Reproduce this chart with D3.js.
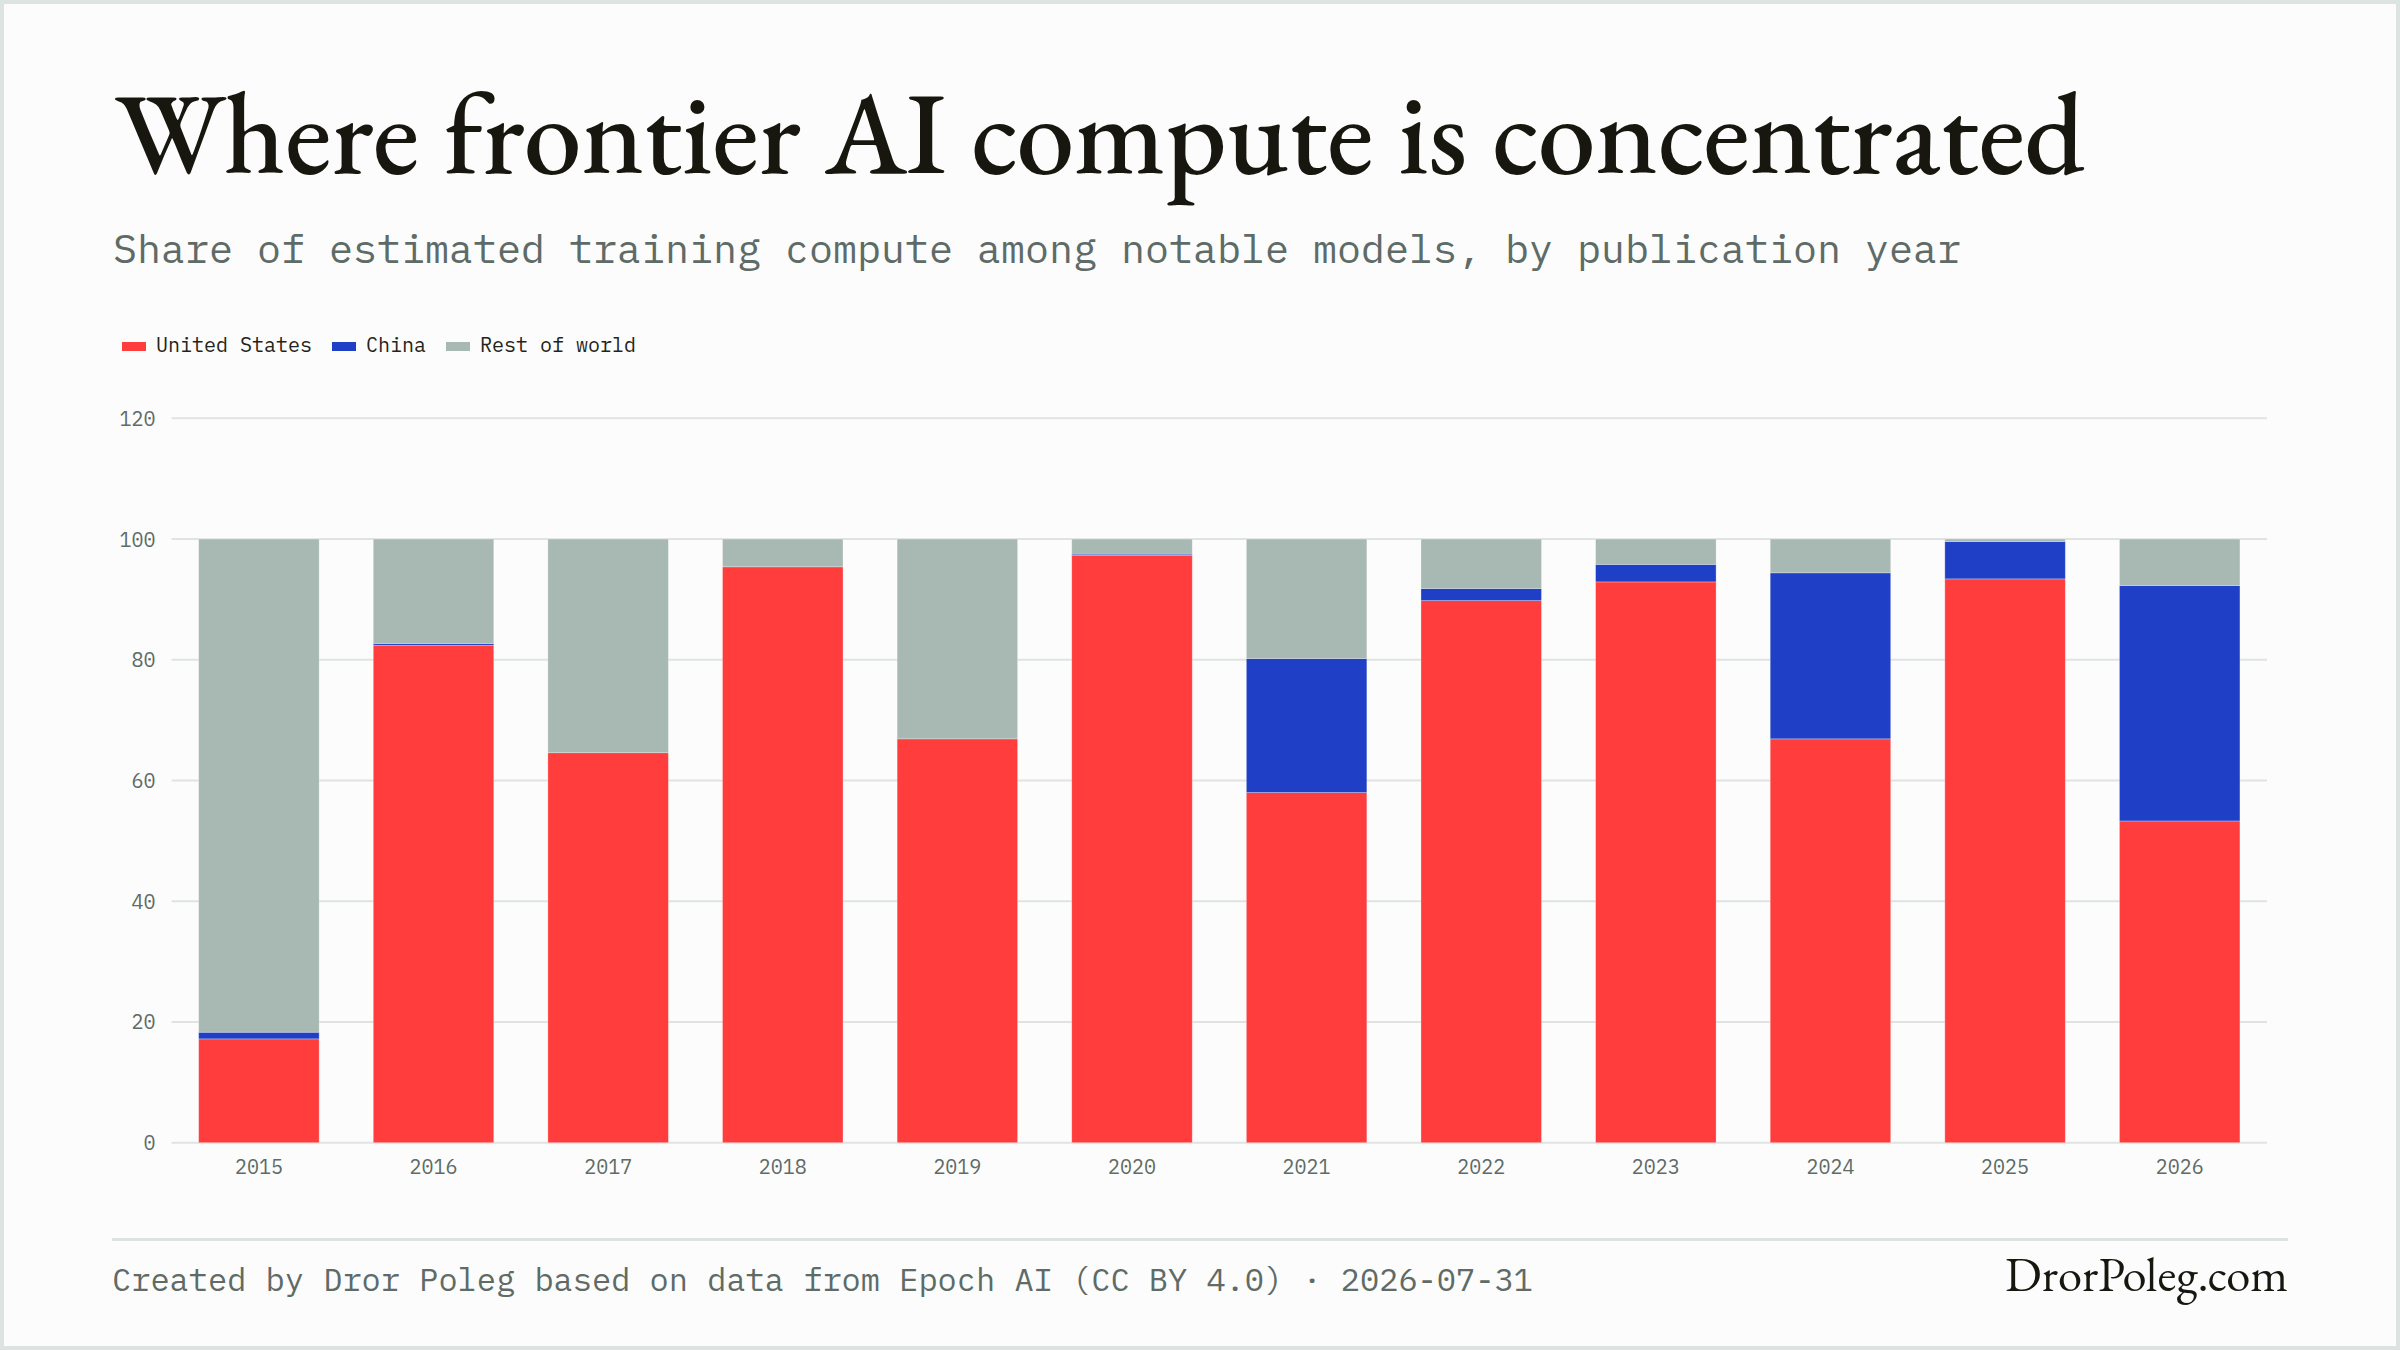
<!DOCTYPE html>
<html>
<head>
<meta charset="utf-8">
<script src="https://cdn.jsdelivr.net/npm/d3@7"></script>
<style>
  body { margin: 0; background: #fcfcfc; }
  svg { display: block; }
</style>
</head>
<body>
<svg id="chart" width="2400" height="1350"></svg>
<script>
const years = ['2015', '2016', '2017', '2018', '2019', '2020', '2021', '2022', '2023', '2024', '2025', '2026'];
const unitedStates = [17.2, 82.4, 64.6, 95.4, 66.9, 97.3, 58.0, 89.8, 92.9, 66.9, 93.4, 53.3];
const china = [1.1, 0.3, 0, 0, 0, 0.2, 22.2, 2.0, 2.9, 27.5, 6.2, 39.0];
const restOfWorld = [81.7, 17.3, 35.4, 4.6, 33.1, 2.5, 19.8, 8.2, 4.2, 5.6, 0.4, 7.7];
const seriesNames = ['United States', 'China', 'Rest of world'];
const yTicks = [0, 20, 40, 60, 80, 100, 120];

const colors = {
  'United States': '#ff3d3d',
  'China': '#1f40c6',
  'Rest of world': '#a8b8b2'
};

const W = 2400, H = 1350,
  margin = {top: 418.3, right: 133, bottom: 207.3, left: 171.6};

const mono = "'IBM Plex Mono', 'DejaVu Sans Mono', monospace";
const serif = "'EB Garamond', 'Liberation Serif', serif";

const svg = d3.select('#chart');

// frame
svg.append('rect').attr('width', W).attr('height', H).attr('fill', '#dde3e1');
svg.append('rect').attr('x', 4).attr('y', 4).attr('width', W - 8).attr('height', H - 8).attr('fill', '#fcfcfc');

// fit a text element to a given width by adjusting its font size
function fitWidth(sel, target) {
  const size = parseFloat(sel.attr('font-size'));
  const len = sel.node().getComputedTextLength();
  if (len > 0) sel.attr('font-size', size * target / len);
}

const title = svg.append('text')
  .attr('x', 115).attr('y', 173)
  .attr('font-family', serif)
  .attr('font-size', 115)
  .attr('font-weight', 500)
  .attr('fill', '#17170f')
  .text('Where frontier AI compute is concentrated');
fitWidth(title, 1970);

svg.append('text')
  .attr('x', 113).attr('y', 263)
  .attr('font-family', mono)
  .attr('font-size', 40)
  .attr('fill', '#5e6b66')
  .text('Share of estimated training compute among notable models, by publication year');

// legend
const legendX = [122, 332, 446];
const legend = svg.append('g').attr('class', 'legend');
seriesNames.forEach((name, i) => {
  legend.append('rect')
    .attr('x', legendX[i]).attr('y', 342)
    .attr('width', 24).attr('height', 9)
    .attr('fill', colors[name]);
  legend.append('text')
    .attr('x', legendX[i] + 34).attr('y', 352)
    .attr('font-family', mono)
    .attr('font-size', 20)
    .attr('fill', '#1f2420')
    .text(name);
});

// scales
const x = d3.scaleBand()
  .domain(years)
  .range([margin.left, W - margin.right])
  .paddingInner(0.31)
  .paddingOuter(0.155);

const y = d3.scaleLinear()
  .domain([0, 120])
  .range([H - margin.bottom, margin.top]);

// grid
const grid = svg.append('g').attr('class', 'grid');
grid.selectAll('line')
  .data(yTicks)
  .enter()
  .append('line')
  .attr('x1', margin.left).attr('x2', W - margin.right)
  .attr('y1', d => y(d)).attr('y2', d => y(d))
  .attr('stroke', '#dfe4e2')
  .attr('stroke-width', 2);

// y axis labels
const yAxis = svg.append('g')
  .attr('transform', 'translate(' + (margin.left - 16) + ',0)')
  .call(d3.axisLeft(y).tickValues(yTicks).tickSize(0).tickPadding(0));
yAxis.select('.domain').remove();
yAxis.selectAll('text')
  .attr('font-family', mono)
  .attr('font-size', 20)
  .attr('fill', '#5e6b66')
  .attr('dy', '0.35em');

// stacked bars
const rows = years.map((yr, i) => ({
  year: yr,
  'United States': unitedStates[i],
  'China': china[i],
  'Rest of world': restOfWorld[i]
}));

const stacked = d3.stack().keys(seriesNames)(rows);

svg.append('g')
  .attr('class', 'bars')
  .selectAll('g')
  .data(stacked)
  .enter()
  .append('g')
  .attr('fill', s => colors[s.key])
  .selectAll('rect')
  .data(s => s)
  .enter()
  .append('rect')
  .attr('x', d => x(d.data.year))
  .attr('width', x.bandwidth())
  .attr('y', d => y(d[1]))
  .attr('height', d => Math.max(0, y(d[0]) - y(d[1])))
  .attr('stroke', '#ffffff')
  .attr('stroke-opacity', 0.35)
  .attr('stroke-width', 0.8);

// x axis labels
const xAxis = svg.append('g')
  .attr('transform', 'translate(0,' + (H - margin.bottom) + ')')
  .call(d3.axisBottom(x).tickSize(0).tickPadding(0));
xAxis.select('.domain').remove();
xAxis.selectAll('text')
  .attr('font-family', mono)
  .attr('font-size', 20)
  .attr('fill', '#5e6b66')
  .attr('dy', 0)
  .attr('y', 31);

// footer
svg.append('line')
  .attr('x1', 112).attr('x2', 2288)
  .attr('y1', 1239.5).attr('y2', 1239.5)
  .attr('stroke', '#dde3e1')
  .attr('stroke-width', 3);

svg.append('text')
  .attr('x', 112).attr('y', 1291)
  .attr('font-family', mono)
  .attr('font-size', 32)
  .attr('fill', '#5e6b66')
  .text('Created by Dror Poleg based on data from Epoch AI (CC BY 4.0) · 2026-07-31');

const brand = svg.append('text')
  .attr('x', 2288).attr('y', 1291)
  .attr('text-anchor', 'end')
  .attr('font-family', serif)
  .attr('font-size', 45)
  .attr('fill', '#17170f')
  .text('DrorPoleg.com');
fitWidth(brand, 283);
</script>
</body>
</html>
